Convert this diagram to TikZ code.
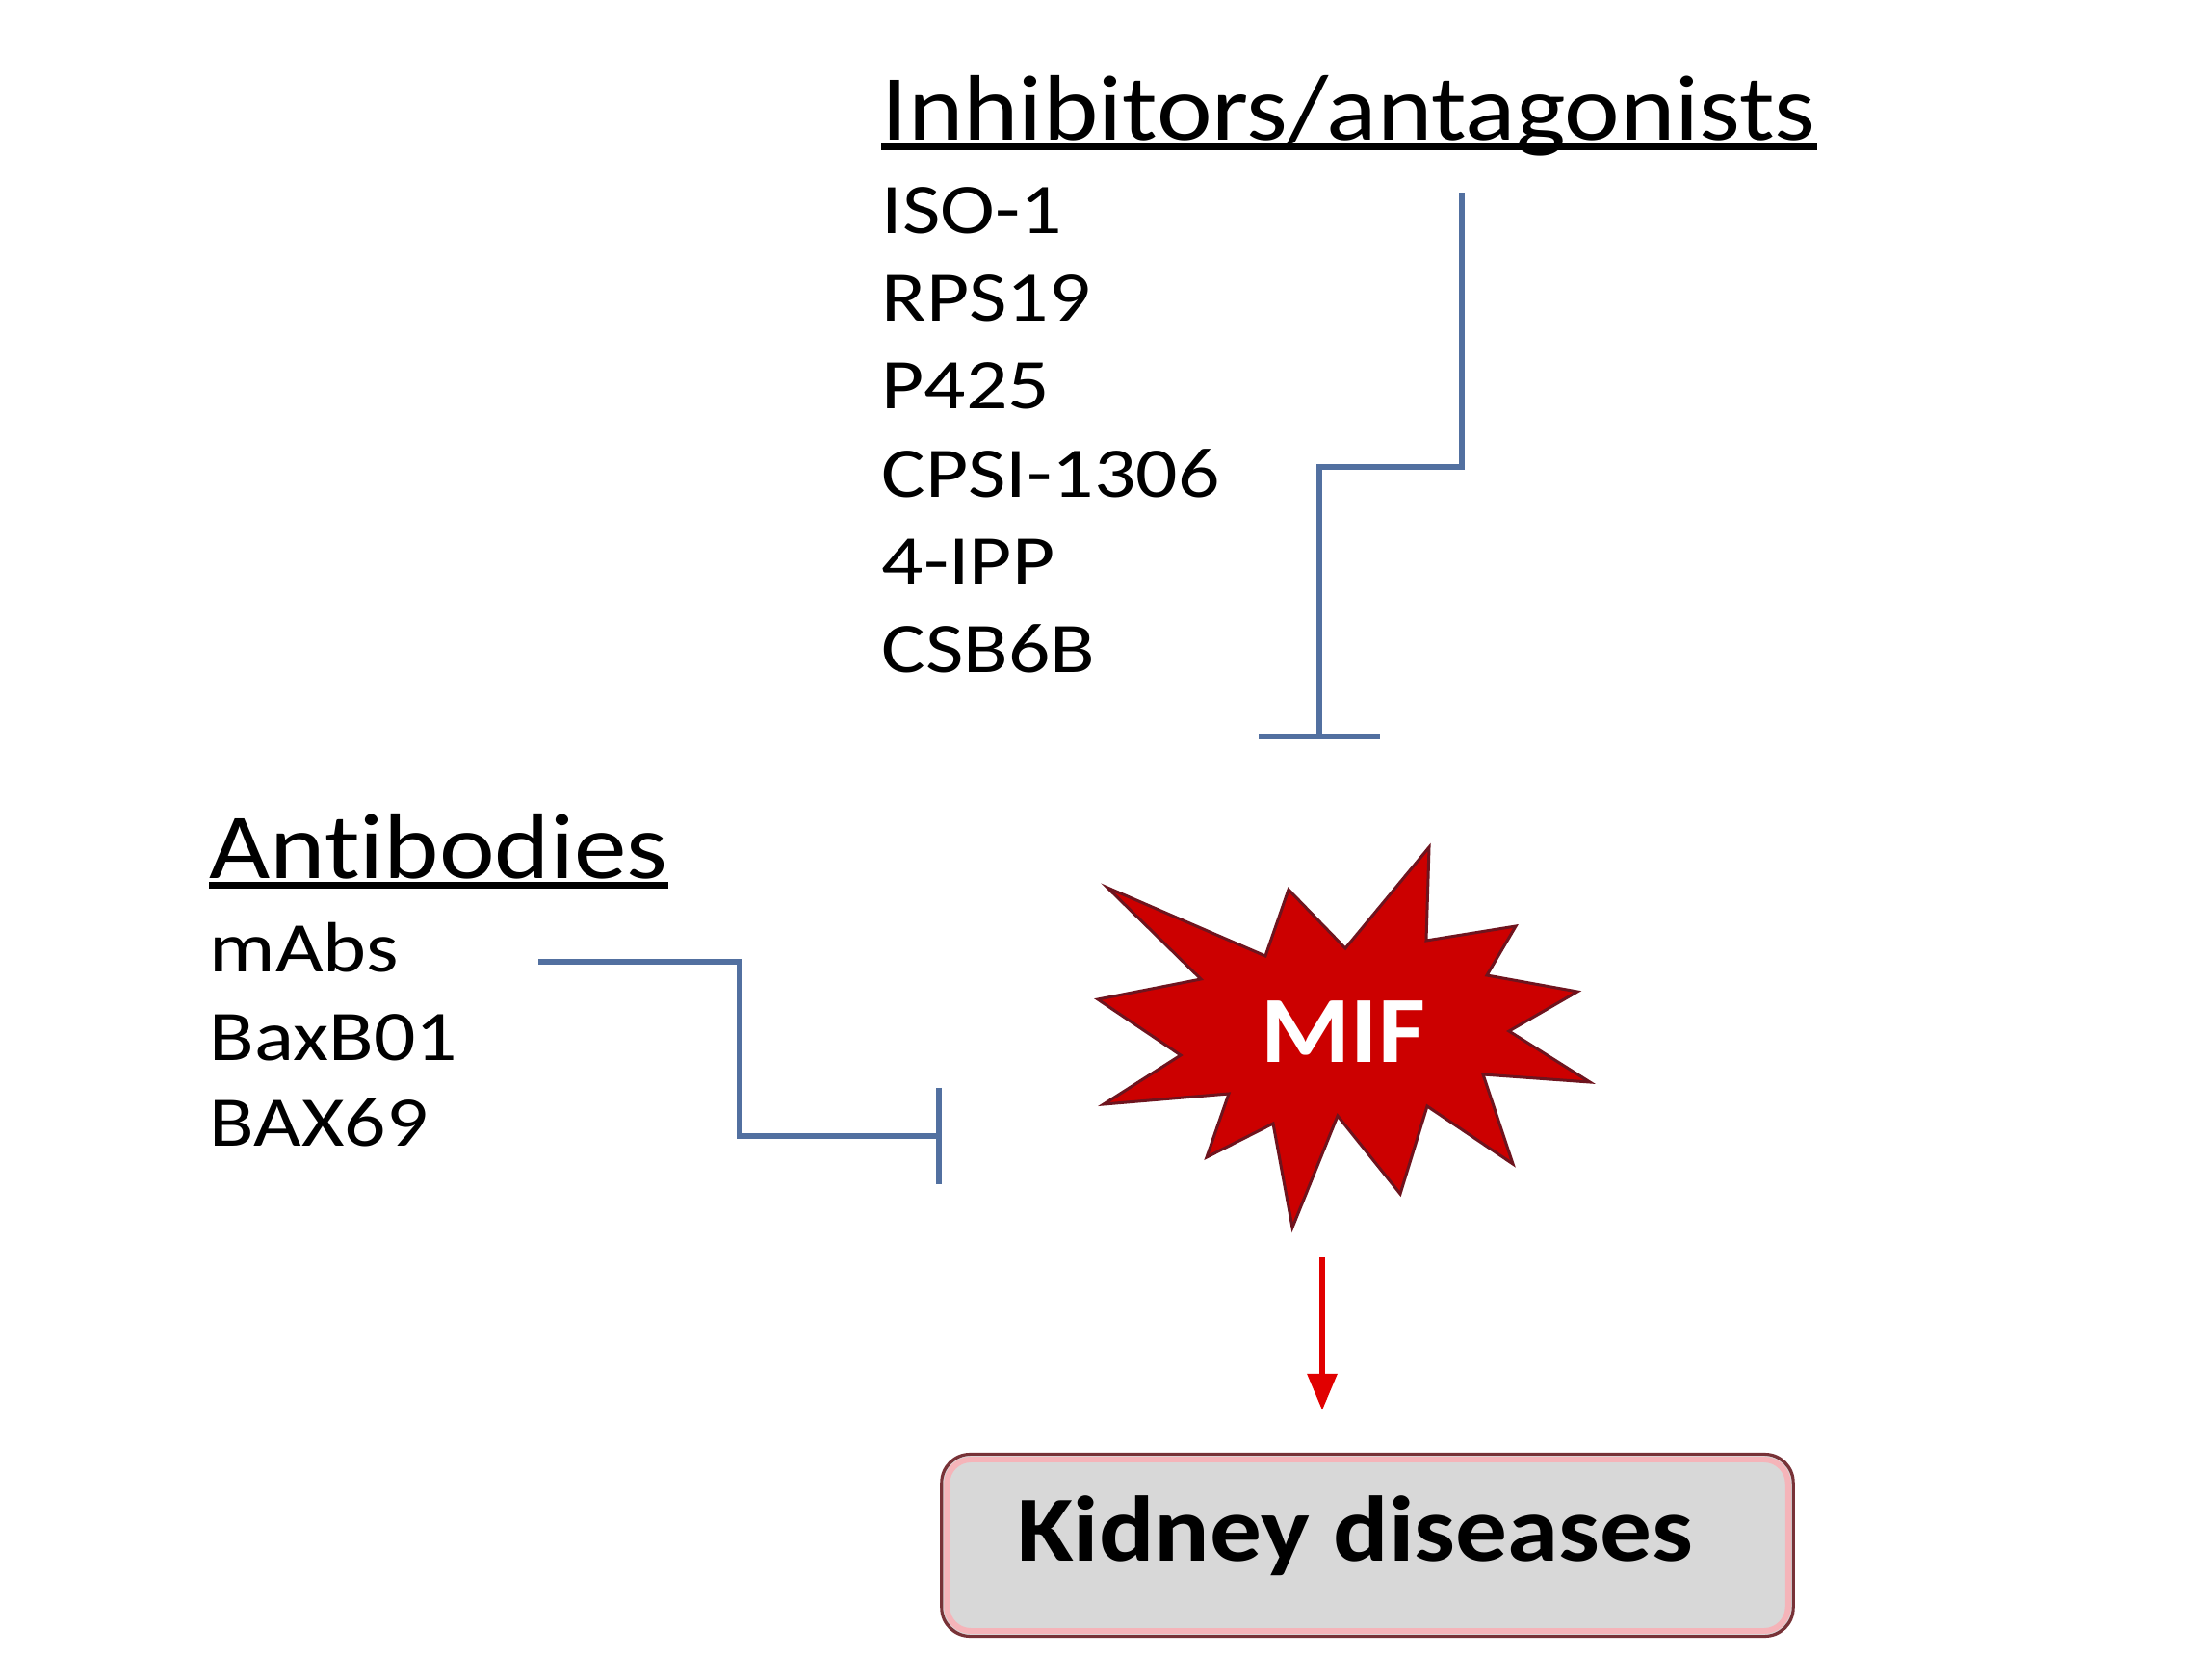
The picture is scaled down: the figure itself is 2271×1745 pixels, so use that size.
\documentclass[tikz,border=0pt]{standalone}
\usepackage{fontspec}
\setmainfont{Carlito}
\newfontfamily\headfont[FakeStretch=1.13,RawFeature={-liga;-clig;-calt;-dlig}]{Carlito}
\newfontfamily\itemfont[FakeStretch=1.16,RawFeature={-liga;-clig;-calt;-dlig}]{Carlito}
\newfontfamily\kidfont[FakeStretch=1.11]{Carlito}
\newfontfamily\miffont[FakeStretch=1.08]{Carlito}
\usetikzlibrary{arrows.meta}
\definecolor{conn}{RGB}{82,112,160}
\definecolor{starred}{RGB}{204,0,0}
\definecolor{stardark}{RGB}{110,20,30}
\definecolor{arrred}{RGB}{225,0,0}
\definecolor{boxgray}{RGB}{216,216,216}
\definecolor{boxedge}{RGB}{120,50,55}
\definecolor{boxpink}{RGB}{245,180,185}
\tikzset{
  head/.style={anchor=base west, inner sep=0pt, font=\headfont\fontsize{27.5}{30}\selectfont},
  item/.style={anchor=base west, inner sep=0pt, font=\itemfont\fontsize{21}{24}\selectfont},
  inhib/.style={draw=conn, line width=0.065cm},
  activ/.style={draw=arrred, line width=0.06cm, -{Triangle[width=0.3cm,length=0.38cm]}},
  kbox/.style={draw=boxedge, line width=0.02cm, fill=boxgray, rounded corners=0.3cm,
    minimum width=8.83cm, minimum height=1.88cm, inner sep=0pt}
}
\begin{document}
\begin{tikzpicture}[x=0.01cm,y=-0.01cm]
\useasboundingbox (0,0) rectangle (2271,1745);
\fill[white] (0,0) rectangle (2271,1745);

% Inhibitors heading and list
\node[head] (inhhead) at (915,145) {Inhibitors/antagonists};
\draw[line width=0.07cm] ([yshift=-0.075cm]inhhead.base west) -- ([yshift=-0.075cm]inhhead.base east);
\node[item] (iso) at (915,242) {ISO-1};
\node[item] (rps) at (915,333) {RPS19};
\node[item] (p425) at (915,424) {P425};
\node[item] (cpsi) at (915,516) {CPSI-1306};
\node[item] (ipp) at (915,607) {4-IPP};
\node[item] (csb) at (915,698) {CSB6B};

% Antibodies heading and list
\node[head] (abhead) at (217,912) {Antibodies};
\draw[line width=0.07cm] ([yshift=-0.075cm]abhead.base west) -- ([yshift=-0.075cm]abhead.base east);
\node[item] (mabs) at (217,1009) {mAbs};
\node[item] (baxb) at (217,1101) {BaxB01};
\node[item] (bax69) at (217,1190) {BAX69};

% MIF star
\fill[starred, draw=stardark, line width=0.03cm, line join=miter]
  (1484,880) -- (1397,985) -- (1338,924) -- (1314,993) -- (1150,922) -- (1247,1017)
  -- (1140,1038) -- (1226,1096) -- (1146,1147) -- (1276,1136) -- (1253,1202)
  -- (1322,1167) -- (1342,1275) -- (1389,1159) -- (1454,1240) -- (1482,1149)
  -- (1571,1209) -- (1540,1116) -- (1651,1124) -- (1567,1071) -- (1638,1030)
  -- (1544,1013) -- (1574,962) -- (1481,977) -- cycle;
\node[inner sep=0pt, text=white, font=\miffont\bfseries\fontsize{28}{30}\selectfont] (mif) at (1395,1072) {MIF};

% Kidney box
\node[kbox] (kid) at (1420,1605) {};
\draw[boxpink, line width=0.06cm, rounded corners=0.25cm]
  ([shift={(0.06cm,-0.06cm)}]kid.north west) rectangle ([shift={(-0.06cm,0.06cm)}]kid.south east);
\draw[boxedge, line width=0.02cm, rounded corners=0.3cm] (kid.north west) rectangle (kid.south east);
\node[inner sep=0pt, font=\kidfont\bfseries\fontsize{27.5}{30}\selectfont] (kidtext) at (1407,1595) {Kidney diseases};

% Inhibitor connector
\coordinate (inhA) at (1518,200);
\coordinate (inhB) at (1370,768);
\draw[inhib, -{Bar[width=1.25cm, line width=0.065cm]}] (inhA) |- (1370,485) -- (inhB);

% Antibody connector
\coordinate (abA) at (559,999);
\coordinate (abB) at (978,1180);
\draw[inhib, -{Bar[width=1.0cm, line width=0.065cm]}] (abA) -| (768,1180) -- (abB);

% Activation arrow
\coordinate (arrA) at (1373,1306);
\draw[activ] (arrA) -- ([yshift=0.45cm]kid.north -| arrA);
\end{tikzpicture}
\end{document}
